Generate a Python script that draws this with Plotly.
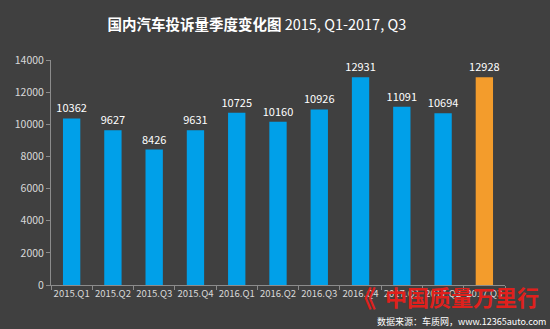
import plotly.graph_objects as go

quarters = ["2015.Q1", "2015.Q2", "2015.Q3", "2015.Q4", "2016.Q1", "2016.Q2",
            "2016.Q3", "2016.Q4", "2017.Q1", "2017.Q2", "2017.Q3"]
complaints = [10362, 9627, 8426, 9631, 10725, 10160, 10926, 12931, 11091, 10694, 12928]
bar_colors = ["#00a0e9"] * 10 + ["#f39c2c"]

BG = "#404040"
FONT = "Noto Sans CJK SC"

fig = go.Figure(go.Bar(
    x=quarters, y=complaints,
    marker=dict(color=bar_colors, line=dict(width=0)),
    width=0.42,
    text=[str(v) for v in complaints],
    textposition="outside",
    constraintext="none",
    textfont=dict(color="#ffffff", size=11, family=FONT),
    cliponaxis=False,
))

fig.update_layout(
    width=550, height=329,
    paper_bgcolor=BG, plot_bgcolor=BG,
    margin=dict(l=51, r=45, t=60, b=44),
    showlegend=False,
    font=dict(family=FONT, color="#d9d9d9", size=11),
    title=dict(
        text="<b>国内汽车投诉量季度变化图</b> 2015, Q1-2017, Q3",
        x=0.467, xanchor="center", y=0.925, yanchor="middle",
        font=dict(size=14.5, color="#ffffff", family=FONT),
    ),
    xaxis=dict(
        showgrid=False, showline=True, linecolor="#8c8c8c", linewidth=1,
        ticks="outside", tickson="boundaries", ticklen=4, tickcolor="#8c8c8c",
        tickangle=0, tickfont=dict(size=9.5, color="#d9d9d9"),
    ),
    yaxis=dict(
        range=[0, 14000], dtick=2000, tickformat="d", showgrid=False, zeroline=False,
        showline=True, linecolor="#8c8c8c", linewidth=1,
        ticks="outside", ticklen=4, tickcolor="#8c8c8c",
        tickfont=dict(size=10.5, color="#d9d9d9"),
    ),
)

# watermark logo and data source
fig.add_annotation(
    text="<b>《</b>", xref="paper", yref="paper", x=0.69, y=-0.05,
    xanchor="center", yanchor="middle", showarrow=False,
    font=dict(size=24, color="#e0201c", family=FONT),
)
fig.add_annotation(
    text="<b>中国质量万里行</b>", xref="paper", yref="paper", x=1.08, y=-0.05,
    xanchor="right", yanchor="middle", showarrow=False,
    font=dict(size=22, color="#e0201c", family=FONT),
)
fig.add_annotation(
    text="数据来源：车质网，www.12365auto.com", xref="paper", yref="paper",
    x=1.095, y=-0.16, xanchor="right", yanchor="middle", showarrow=False,
    font=dict(size=9, color="#ffffff", family=FONT),
)

fig.write_html("out.html")
